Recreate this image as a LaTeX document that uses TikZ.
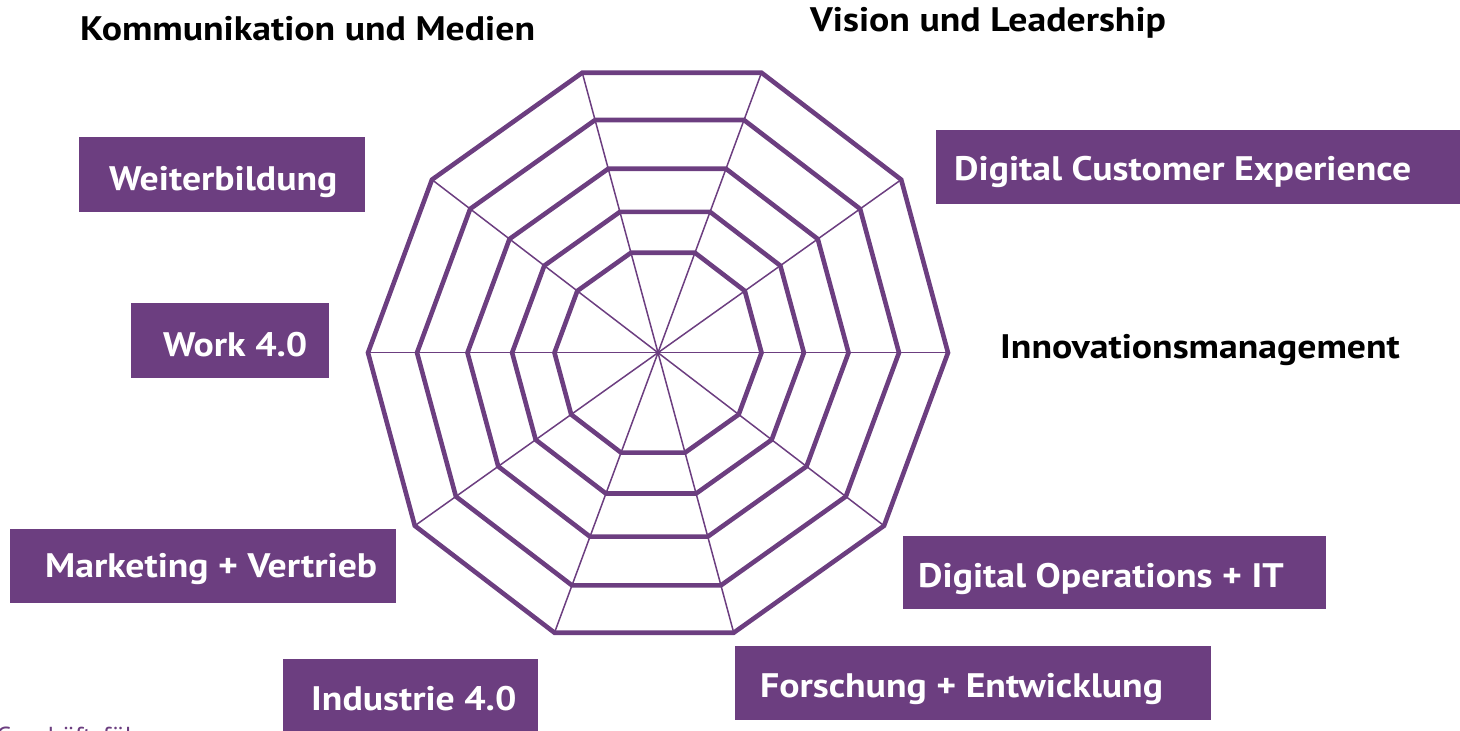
\documentclass[tikz,border=0pt]{standalone}
\usepackage{fontspec}
\setmainfont{PT Sans}
\newfontfamily\tagfont{PT Sans}[FakeStretch=1.11]
\usepackage{tikz}
\usetikzlibrary{calc}
\definecolor{lila}{RGB}{108,62,128}
\tikzset{every node/.style={inner sep=0pt, font=\tagfont\fontsize{34}{40}\selectfont\bfseries},
  ring/.style={draw=lila, line width=4.6pt, line join=miter},
  spoke/.style={draw=lila, line width=1.5pt},
  tag/.style={fill=lila, anchor=north west},
  tagtext/.style={text=white, anchor=base west},
  head/.style={text=black, anchor=base west}}

\begin{document}
\begin{tikzpicture}[x=1pt, y=-1pt]
    \useasboundingbox (0,0) rectangle (1460,731);
    \coordinate (c) at (658,352.7);
    \foreach \k in {0,...,9}
        \coordinate (v\k) at ({658+290*cos(36*\k)+14.6*sin(36*\k)}, {352.7-294.4*sin(36*\k)});
    \foreach \k in {0,...,9}
        \draw[spoke] (c) -- (v\k);
    \foreach \r in {0.357,0.503,0.657,0.831,1}
        \draw[ring] ($(c)!\r!(v0)$) \foreach \k in {1,...,9}{ -- ($(c)!\r!(v\k)$) } -- cycle;

    \node[head] (km) at (80,40.7) {Kommunikation und Medien};
    \node[head] (vl) at (810,31) {Vision und Leadership};
    \node[head] (im) at (1000,358) {Innovationsmanagement};

    \node[tag, minimum width=286, minimum height=75] (wb) at (79,137) {};
    \node[tagtext] (wb-t) at (109,190) {Weiterbildung};
    \node[tag, minimum width=524, minimum height=74] (dce) at (936,130) {};
    \node[tagtext] (dce-t) at (954,180) {Digital Customer Experience};
    \node[tag, minimum width=198, minimum height=75] (w40) at (131,303) {};
    \node[tagtext] (w40-t) at (163,356.7) {Work 4.0};
    \node[tag, minimum width=386, minimum height=74] (mv) at (10,529) {};
    \node[tagtext] (mv-t) at (45,577.3) {Marketing + Vertrieb};
    \node[tag, minimum width=423, minimum height=73] (doi) at (903,536) {};
    \node[tagtext] (doi-t) at (918,587) {Digital Operations + IT};
    \node[tag, minimum width=476, minimum height=74] (fe) at (735,646) {};
    \node[tagtext] (fe-t) at (760,697) {Forschung + Entwicklung};
    \node[tag, minimum width=255, minimum height=80] (i40) at (283,659) {};
    \node[tagtext] (i40-t) at (311,710) {Industrie 4.0};

    \node[anchor=base west, text=lila, font=\fontsize{26}{30}\selectfont] (gf) at (-4,745) {Geschäftsführung};
\end{tikzpicture}
\end{document}
